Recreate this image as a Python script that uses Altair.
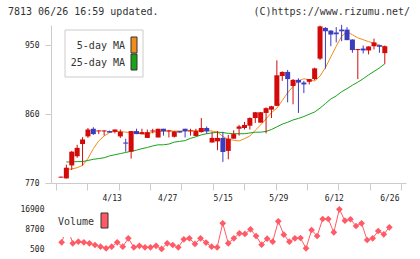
import altair as alt
import numpy as np
import pandas as pd

# ---- daily candles (index -1 is the session before 3/31) ----
days = list(range(-1, 60))
opens = [777, 776, 793, 805, 821, 831, 841, 837.5, 837.5, 838, 837,
         831, 823, 811, 838, 834, 829, 837.5, 829.6, 841, 837.5,
         830.5, 838, 841, 837.5, 831.6, 836.6, 842, 823, 824.5, 829,
         812, 828, 841, 842, 845, 855, 849, 861.7, 866, 871,
         910, 915.4, 897, 905, 901.5, 902.4, 906, 932.7, 973, 969.5,
         967, 970.8, 970.8, 957.8, 944, 946, 943.5, 949, 950.4, 940]
highs = [778.3, 794, 812, 820, 830, 842, 843, 839, 839, 838.5, 840,
         840, 828, 838, 841, 841, 840, 841, 841, 841, 839.6,
         838, 838, 841, 841, 841, 855, 844, 837, 838, 837,
         833, 839, 846, 850, 856, 863, 863, 869, 871, 930.5,
         916, 918, 906, 907, 903.7, 906, 921, 976, 974, 970,
         974, 977, 974, 958, 945.3, 950, 949, 959, 951, 950]
lows = [777, 776, 787, 803, 793, 829, 833, 834, 832, 836, 835,
        829, 811, 802, 834, 834, 829, 835, 829.6, 832, 829.6,
        829.6, 836, 829.6, 832, 831.6, 836, 834.4, 823, 813, 797.6,
        801, 828, 832, 840, 840, 848.6, 849, 835, 855, 871,
        903.7, 875.6, 873, 861.7, 887.7, 899, 904.6, 931, 919.7, 949,
        954, 955.6, 957, 940.5, 906, 939.6, 938.3, 944.8, 940.5, 926]
closes = [778.3, 790, 811, 816, 827, 840, 834, 838.8, 838.8, 836, 840,
          837, 821.5, 838, 834, 836.6, 836.6, 838.8, 841, 837.6, 838.8,
          837.5, 836, 837.6, 838.8, 838, 842, 837.6, 829, 829, 810.6,
          828, 834, 844, 846, 855, 862.6, 862.6, 868, 870.4, 911,
          915.4, 906, 905, 901.5, 899, 906, 920, 975, 968.6, 964.3,
          964.7, 968.6, 957, 944, 945.3, 943.5, 948.7, 954, 948.3, 949]

# ---- moving averages and volume for sessions 0..59 ----
ma_days = list(range(0, 60))
ma5 = [787.5, 788.5, 790, 793, 802, 815, 825, 831.5, 836, 837.5,
       837.5, 836.5, 836, 836, 834, 834, 836.5, 837.5, 838, 838,
       838, 838, 838.5, 838.5, 838.5, 838.5, 838.5, 838, 836.5, 831,
       827, 826, 825, 828, 831.5, 839, 846, 854, 862, 868,
       878, 888, 896.5, 903.5, 906.5, 905, 903.5, 910, 921, 935,
       949, 962, 968, 964, 960, 957.5, 955, 953, 950.5, 948]
ma25 = [797.5, 797.5, 798, 798, 799.5, 801, 802, 803, 805.5, 807,
        808.5, 810, 811.5, 813, 815, 816.5, 818.5, 820, 820, 821,
        823.5, 824.5, 825.5, 828.5, 830.5, 833, 834.5, 835.5, 836.5, 836,
        835, 834.5, 834.5, 834.5, 835.5, 836.5, 836.5, 837.5, 840, 843.5,
        847, 849.5, 852.5, 854.5, 857, 860, 863, 868, 874, 880,
        884, 889.5, 893.5, 898, 902, 906.5, 911.5, 916, 920.5, 926]
volume = [3250, 9500, 2840, 3500, 3250, 2840, 2140, 1440, 790, 1440,
          3250, 1440, 4880, 1200, 1800, 1200, 1200, 1800, 520, 2840,
          2140, 1200, 4470, 4880, 2570, 4880, 3120, 1440, 1200, 11040,
          2840, 4880, 6930, 6660, 8570, 5830, 2280, 4740, 3500, 11860,
          6390, 3500, 4880, 5010, 790, 8290, 5830, 12800, 12800, 7340,
          16780, 12100, 12700, 9930, 11040, 4190, 4880, 7880, 6520, 9400]

label_days = [9, 19, 29, 39, 49, 59]
label_text = ["4/13", "4/27", "5/15", "5/29", "6/12", "6/26"]
price_ticks = [770, 860, 950]
volume_ticks = [500, 8700, 16900]
ma_names = ["5-day MA", "25-day MA"]
header_left = "7813 06/26 16:59 updated."
header_right = "(C)https://www.rizumu.net/"

RED, BLUE = "#d20a0a", "#3c3cbf"
ORANGE, GREEN = "#f28c1a", "#19a319"
VOL = "#ff5a66"
MONO = "DejaVu Sans Mono"

candles = pd.DataFrame({"day": days, "open": opens, "high": highs,
                        "low": lows, "close": closes})
candles["dir"] = np.where(candles["close"] >= candles["open"], "up", "down")
ma = pd.DataFrame({"day": ma_days, "ma5": ma5, "ma25": ma25})
vol = pd.DataFrame({"day": ma_days, "volume": volume})

W, H = 355, 228
x_dom = [-1.92, 62.0]
x_scale = alt.Scale(domain=x_dom, nice=False, zero=False)
grid_ticks = list(np.linspace(x_dom[0], x_dom[1], 12))

x_price = alt.X("day:Q", scale=x_scale, title=None,
                axis=alt.Axis(orient="bottom", values=grid_ticks, labels=False,
                              tickSize=7, offset=-70, grid=False))
y_scale = alt.Scale(domain=[770, 976.8], range=[158, 0], nice=False, zero=False)
y_axis = alt.Axis(orient="left", values=price_ticks, tickSize=6,
                  labelPadding=6, grid=False)
color = alt.Color("dir:N", scale=alt.Scale(domain=["up", "down"], range=[RED, BLUE]),
                  legend=None)

base = alt.Chart(candles)
wicks = base.mark_rule(strokeWidth=1).encode(
    x=x_price, y=alt.Y("low:Q", scale=y_scale, axis=y_axis, title=None),
    y2="high:Q", color=color)
bodies = base.mark_bar(size=5).encode(
    x=x_price, y=alt.Y("open:Q", scale=y_scale, axis=y_axis, title=None),
    y2="close:Q", color=color)
line5 = alt.Chart(ma).mark_line(color=ORANGE, strokeWidth=1).encode(
    x=x_price, y=alt.Y("ma5:Q", scale=y_scale, axis=y_axis, title=None))
line25 = alt.Chart(ma).mark_line(color=GREEN, strokeWidth=1).encode(
    x=x_price, y=alt.Y("ma25:Q", scale=y_scale, axis=y_axis, title=None))
price = alt.layer(line5, line25, wicks, bodies)

label_expr = " : ".join(f"datum.value == {d} ? '{t}'" for d, t in zip(label_days, label_text)) + " : ''"
x_vol = alt.X("day:Q", scale=x_scale, title=None,
              axis=alt.Axis(orient="bottom", values=label_days, labelExpr=label_expr,
                            ticks=False, tickSize=0, domain=False, offset=-70,
                            labelPadding=11, grid=False))
y_vol = alt.Y("volume:Q", title=None,
              scale=alt.Scale(domain=[500, 16900], range=[224, 184], nice=False, zero=False),
              axis=alt.Axis(orient="left", values=volume_ticks, format="d", domain=False,
                            ticks=False, tickSize=0, labelPadding=7, grid=False))
vbase = alt.Chart(vol)
vol_line = vbase.mark_line(color=VOL, strokeWidth=1).encode(x=x_vol, y=y_vol)
vol_pts = vbase.mark_point(shape="diamond", filled=True, size=45, color=VOL,
                           opacity=1).encode(x=x_vol, y=y_vol)
volume_layer = alt.layer(vol_line, vol_pts)

one = pd.DataFrame({"k": [0]})

def txt(s, x, y, align="left", size=10):
    return alt.Chart(pd.DataFrame({"t": [s]})).mark_text(
        font=MONO, fontSize=size, color="#333333", align=align, baseline="middle"
    ).encode(text="t:N", x=alt.value(x), y=alt.value(y))

def box(x, x2, y, y2, fill, stroke=None):
    kw = {"fill": fill}
    if stroke:
        kw.update(stroke=stroke, strokeWidth=1)
    return alt.Chart(one).mark_rect(**kw).encode(
        x=alt.value(x), x2=alt.value(x2), y=alt.value(y), y2=alt.value(y2))

overlay = [
    txt(header_left, -43, -13),
    txt(header_right, 359, -13, align="right"),
    box(14, 92, 5, 52, "white", "#cccccc"),
    txt(ma_names[0], 74, 21, align="right"),
    txt(ma_names[1], 74, 38, align="right"),
    box(80, 86, 12, 28, ORANGE, "#333333"),
    box(80, 86, 29, 45, GREEN, "#333333"),
    box(5, 60, 184, 212, "white"),
    txt("Volume", 7, 197),
    box(50, 57, 188, 203, VOL, "#333333"),
]

chart = alt.layer(price, volume_layer, *overlay).resolve_scale(
    x="independent", y="independent"
).properties(
    width=W, height=H,
    autosize=alt.AutoSizeParams(type="none"),
    padding={"left": 51, "top": 25, "right": 14, "bottom": 6},
    background="white",
).configure_axis(
    labelFont=MONO, labelFontSize=8, labelColor="#222222",
    domainColor="#cccccc", tickColor="#cccccc", grid=False,
).configure_view(stroke=None)

chart.save("out.html", embed_options={"renderer": "svg", "actions": False})
